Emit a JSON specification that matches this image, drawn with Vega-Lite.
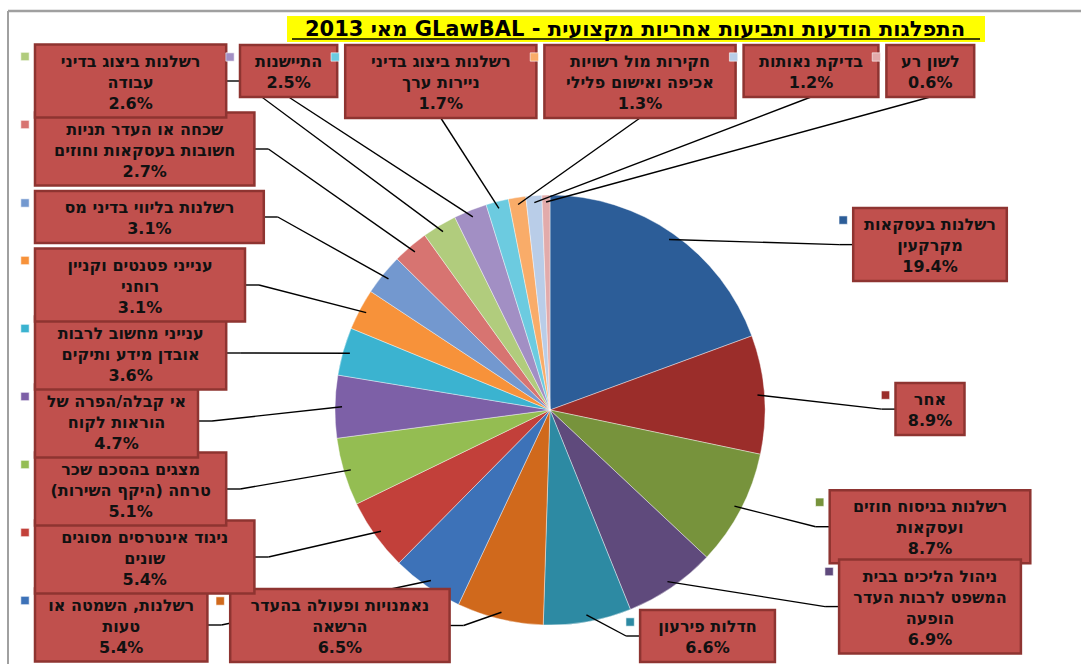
{
  "$schema": "https://vega.github.io/schema/vega-lite/v6.json",
  "width": 1073,
  "height": 653,
  "autosize": {"type": "none"},
  "padding": {"left": 8, "top": 11, "right": 0, "bottom": 0},
  "background": "white",
  "config": {"view": {"stroke": null}},
  "layer": [
    {
      "data": {"values": [{"title": "התפלגות הודעות ותביעות אחריות מקצועית - GLawBAL מאי 2013"}]},
      "layer": [
        {
          "mark": {"type": "rule", "color": "#a0a0a0", "strokeWidth": 2.5},
          "encoding": {
            "x": {"datum": -542, "type": "quantitative", "scale": {"domain": [-542, 531], "nice": false, "zero": false}, "axis": null},
            "x2": {"datum": 531},
            "y": {"datum": -399, "type": "quantitative", "scale": {"domain": [-399, 254], "nice": false, "zero": false, "reverse": true}, "axis": null}
          }
        },
        {
          "mark": {"type": "rule", "color": "#a0a0a0", "strokeWidth": 2},
          "encoding": {
            "x": {"datum": -542, "type": "quantitative", "scale": {"domain": [-542, 531], "nice": false, "zero": false}, "axis": null},
            "y": {"datum": -399, "type": "quantitative", "scale": {"domain": [-399, 254], "nice": false, "zero": false, "reverse": true}, "axis": null},
            "y2": {"datum": 254}
          }
        },
        {
          "mark": {"type": "rect", "color": "#ffff00"},
          "encoding": {
            "x": {"datum": -263, "type": "quantitative", "scale": {"domain": [-542, 531], "nice": false, "zero": false}, "axis": null},
            "x2": {"datum": 435},
            "y": {"datum": -394, "type": "quantitative", "scale": {"domain": [-399, 254], "nice": false, "zero": false, "reverse": true}, "axis": null},
            "y2": {"datum": -368}
          }
        },
        {
          "mark": {"type": "rule", "color": "black", "strokeWidth": 1.5},
          "encoding": {
            "x": {"datum": -258, "type": "quantitative", "scale": {"domain": [-542, 531], "nice": false, "zero": false}, "axis": null},
            "x2": {"datum": 430},
            "y": {"datum": -371, "type": "quantitative", "scale": {"domain": [-399, 254], "nice": false, "zero": false, "reverse": true}, "axis": null}
          }
        },
        {
          "transform": [{"calculate": "'\u202b' + datum.title + '\u202c'", "as": "t"}],
          "mark": {"type": "text", "font": "DejaVu Sans", "fontSize": 21, "fontWeight": "bold", "align": "center", "baseline": "alphabetic", "color": "black"},
          "encoding": {
            "text": {"field": "t"},
            "x": {"datum": 85, "type": "quantitative", "scale": {"domain": [-542, 531], "nice": false, "zero": false}, "axis": null},
            "y": {"datum": -374, "type": "quantitative", "scale": {"domain": [-399, 254], "nice": false, "zero": false, "reverse": true}, "axis": null}
          }
        }
      ]
    },
    {
      "data": {
        "values": [
          {"idx": 1, "label": "רשלנות בעסקאות\nמקרקעין", "value": 19.4},
          {"idx": 2, "label": "אחר", "value": 8.9},
          {"idx": 3, "label": "רשלנות בניסוח חוזים\nועסקאות", "value": 8.7},
          {"idx": 4, "label": "ניהול הליכים בבית\nהמשפט לרבות העדר\nהופעה", "value": 6.9},
          {"idx": 5, "label": "חדלות פירעון", "value": 6.6},
          {"idx": 6, "label": "נאמנויות ופעולה בהעדר\nהרשאה", "value": 6.5},
          {"idx": 7, "label": "רשלנות, השמטה או\nטעות", "value": 5.4},
          {"idx": 8, "label": "ניגוד אינטרסים מסוגים\nשונים", "value": 5.4},
          {"idx": 9, "label": "מצגים בהסכם שכר\nטרחה (היקף השירות)", "value": 5.1},
          {"idx": 10, "label": "אי קבלה/הפרה של\nהוראות לקוח", "value": 4.7},
          {"idx": 11, "label": "ענייני מחשוב לרבות\nאובדן מידע ותיקים", "value": 3.6},
          {"idx": 12, "label": "ענייני פטנטים וקניין\nרוחני", "value": 3.1},
          {"idx": 13, "label": "רשלנות בליווי בדיני מס", "value": 3.1},
          {"idx": 14, "label": "שכחה או העדר תניות\nחשובות בעסקאות וחוזים", "value": 2.7},
          {"idx": 15, "label": "רשלנות ביצוג בדיני\nעבודה", "value": 2.6},
          {"idx": 16, "label": "התיישנות", "value": 2.5},
          {"idx": 17, "label": "רשלנות ביצוג בדיני\nניירות ערך", "value": 1.7},
          {"idx": 18, "label": "חקירות מול רשויות\nאכיפה ואישום פלילי", "value": 1.3},
          {"idx": 19, "label": "בדיקת נאותות", "value": 1.2},
          {"idx": 20, "label": "לשון רע", "value": 0.6}
        ]
      },
      "transform": [
        {"joinaggregate": [{"op": "sum", "field": "value", "as": "total"}]},
        {"window": [{"op": "sum", "field": "value", "as": "cum"}], "sort": [{"field": "idx", "order": "ascending"}], "frame": [null, 0]},
        {"calculate": "(datum.cum - datum.value / 2) / datum.total * 2 * PI", "as": "a"},
        {"calculate": "sin(datum.a)", "as": "s"},
        {"calculate": "cos(datum.a)", "as": "c"},
        {"calculate": "datum.a * 180 / PI", "as": "deg"},
        {"calculate": "datum.deg < 160 ? 'R' : datum.deg < 200 ? 'B' : datum.deg < 332 ? 'L' : 'T'", "as": "grp"},
        {"calculate": "length(split(datum.label, '\\n')) + 1", "as": "nl"},
        {"calculate": "max(length(split(datum.label, '\\n')[0]), length(split(datum.label, '\\n')[1] || ''), length(split(datum.label, '\\n')[2] || ''), 5)", "as": "ml"},
        {"calculate": "datum.ml * 9.4 + 22", "as": "w"},
        {"calculate": "datum.nl * 21 + 10", "as": "h"},
        {"calculate": "datum.w + 8", "as": "tw"},
        {"window": [{"op": "row_number", "as": "gi"}, {"op": "sum", "field": "tw", "as": "ct"}], "groupby": ["grp"], "sort": [{"field": "idx", "order": "ascending"}], "frame": [null, 0]},
        {"calculate": "datum.grp == 'R' ? 380 : datum.grp == 'B' ? clamp(900 * datum.s, -380, 380) : datum.grp == 'L' ? -515 + datum.w / 2 : -310 + datum.ct - datum.tw + datum.w / 2", "as": "bx"},
        {"calculate": "datum.grp == 'R' ? -220 * datum.c + 15 : datum.grp == 'B' ? 252 - datum.h / 2 : datum.grp == 'L' ? 215 - (datum.gi - 1) * 68 : -365 + datum.h / 2", "as": "by"},
        {"calculate": "208 * datum.s", "as": "ex"},
        {"calculate": "-208 * datum.c", "as": "ey"},
        {"calculate": "datum.bx > datum.ex ? 1 : -1", "as": "dir"},
        {"calculate": "datum.grp == 'T' ? datum.bx : datum.bx - datum.dir * datum.w / 2", "as": "ax"},
        {"calculate": "datum.grp == 'T' ? datum.by + datum.h / 2 : datum.by", "as": "ay"},
        {"calculate": "datum.grp == 'T' ? datum.ax : datum.ax - datum.dir * 14", "as": "kx"},
        {"calculate": "datum.ay", "as": "ky"},
        {"calculate": "datum.bx - datum.w / 2", "as": "bx1"},
        {"calculate": "datum.bx + datum.w / 2", "as": "bx2"},
        {"calculate": "datum.by - datum.h / 2", "as": "by1"},
        {"calculate": "datum.by + datum.h / 2", "as": "by2"},
        {"calculate": "datum.by1 + 9", "as": "ty"},
        {"calculate": "datum.bx1 - 10", "as": "keyx"},
        {"calculate": "datum.by1 + 12", "as": "keyy"},
        {"calculate": "'\u202b' + replace(datum.label, regexp('\\n', 'g'), '\u202c\\n\u202b') + '\u202c\\n' + format(datum.value, '.1f') + '%'", "as": "disp"}
      ],
      "layer": [
        {
          "mark": {"type": "arc", "outerRadius": 215, "stroke": "#ffffff", "strokeWidth": 0.8, "strokeOpacity": 0.5},
          "encoding": {
            "theta": {"field": "value", "type": "quantitative", "stack": true},
            "order": {"field": "idx", "type": "quantitative"},
            "color": {"field": "idx", "type": "nominal", "legend": null, "scale": {"domain": [1,2,3,4,5,6,7,8,9,10,11,12,13,14,15,16,17,18,19,20], "range": ["#2c5d98", "#9b2d2a", "#77933c", "#5f4a7c", "#2d8aa3", "#d0691c", "#3d72b8", "#c2403a", "#94bd52", "#7d60a7", "#3bb3d0", "#f7923a", "#7398cf", "#d77471", "#b1cc7d", "#a28fc4", "#6ccbe0", "#f9ac69", "#b9cde8", "#e2abab"]}},
            "x": {"datum": 0, "type": "quantitative", "scale": {"domain": [-542, 531], "nice": false, "zero": false}, "axis": null},
            "y": {"datum": 0, "type": "quantitative", "scale": {"domain": [-399, 254], "nice": false, "zero": false, "reverse": true}, "axis": null}
          }
        },
        {
          "mark": {"type": "rule", "color": "#000000", "strokeWidth": 1.4},
          "encoding": {
            "x": {"field": "ex", "type": "quantitative", "scale": {"domain": [-542, 531], "nice": false, "zero": false}, "axis": null},
            "y": {"field": "ey", "type": "quantitative", "scale": {"domain": [-399, 254], "nice": false, "zero": false, "reverse": true}, "axis": null},
            "x2": {"field": "kx"},
            "y2": {"field": "ky"}
          }
        },
        {
          "mark": {"type": "rule", "color": "#000000", "strokeWidth": 1.4},
          "encoding": {
            "x": {"field": "kx", "type": "quantitative", "scale": {"domain": [-542, 531], "nice": false, "zero": false}, "axis": null},
            "y": {"field": "ky", "type": "quantitative", "scale": {"domain": [-399, 254], "nice": false, "zero": false, "reverse": true}, "axis": null},
            "x2": {"field": "ax"},
            "y2": {"field": "ay"}
          }
        },
        {
          "mark": {"type": "rect", "fill": "#c0504d", "stroke": "#8e3431", "strokeWidth": 2.5},
          "encoding": {
            "x": {"field": "bx1", "type": "quantitative", "scale": {"domain": [-542, 531], "nice": false, "zero": false}, "axis": null},
            "x2": {"field": "bx2"},
            "y": {"field": "by1", "type": "quantitative", "scale": {"domain": [-399, 254], "nice": false, "zero": false, "reverse": true}, "axis": null},
            "y2": {"field": "by2"}
          }
        },
        {
          "mark": {"type": "point", "shape": "square", "filled": true, "size": 70, "opacity": 1, "stroke": "#ffffff", "strokeWidth": 0.6},
          "encoding": {
            "x": {"field": "keyx", "type": "quantitative", "scale": {"domain": [-542, 531], "nice": false, "zero": false}, "axis": null},
            "y": {"field": "keyy", "type": "quantitative", "scale": {"domain": [-399, 254], "nice": false, "zero": false, "reverse": true}, "axis": null},
            "color": {"field": "idx", "type": "nominal", "legend": null}
          }
        },
        {
          "mark": {"type": "text", "font": "DejaVu Sans", "fontSize": 16, "fontWeight": "bold", "align": "center", "baseline": "top", "lineBreak": "\n", "lineHeight": 21, "color": "#111111"},
          "encoding": {
            "x": {"field": "bx", "type": "quantitative", "scale": {"domain": [-542, 531], "nice": false, "zero": false}, "axis": null},
            "y": {"field": "ty", "type": "quantitative", "scale": {"domain": [-399, 254], "nice": false, "zero": false, "reverse": true}, "axis": null},
            "text": {"field": "disp"}
          }
        }
      ]
    }
  ]
}
